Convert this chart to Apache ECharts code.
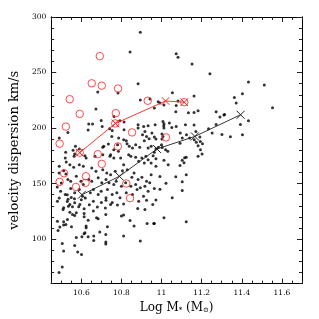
<!DOCTYPE html>
<html><head><meta charset="utf-8">
<script src="https://cdn.jsdelivr.net/npm/echarts@6/dist/echarts.min.js"></script>
<style>html,body{margin:0;padding:0;background:#fff}#c{width:319px;height:319px}</style>
</head><body><div id="c"></div>
<script>
// Tick labels
const xTickLabels = [10.6, 10.8, 11.0, 11.2, 11.4, 11.6];
const yTickLabels = [100, 150, 200, 250, 300];

// Black points: [log M*, sigma]
const blackDots = [
[10.894,286.3],[10.843,268.6],[10.682,232.4],[10.783,231.5],[10.883,240],[10.894,225.2],[10.942,226.1],[10.673,217.1],
[11.073,267],[11.082,263.8],[11.152,257.8],[11.241,248.8],[11.433,241.4],[11.403,230.9],[11.363,227.6],[11.372,222.5],[11.054,231.8],[11.162,228.8],[10.983,223.7],[10.992,222.5],[11.012,220.7],[10.964,218],[11.082,224.3],[11.073,220.4],[11.071,214.7],[11.134,213.8],[11.162,214.1],[11.182,215.6],[11.272,214.7],[11.314,212.3],[11.512,238.7],[11.553,218.3],[11.291,210],[11.311,211.8],[11.393,203.3],[11.433,206.6],
[10.637,203.6],[10.656,203.6],[10.699,206.9],[10.813,205.4],[10.763,210.5],[10.793,206.5],[10.704,201.5],[10.883,203],[10.883,200],[10.911,201.5],[10.933,202.2],[11.011,202.2],[11.039,204.6],[11.051,200.6],[11.073,201.5],[11.012,204],[11.012,200],[11.162,202.8],[11.234,199.5],[11.272,203.3],[10.968,203],[11.119,203],[11.007,206],
[10.634,198.2],[10.741,199.4],[10.754,197.9],[10.813,198.5],[10.905,194],[10.917,197],[10.914,188.6],[10.925,192.5],[10.938,190.5],[10.952,195.5],[10.735,185.7],[10.811,189.6],[10.824,188.7],[10.839,183.6],[10.855,182.1],[10.871,185.1],[10.891,182.7],[10.933,182.1],[10.948,183.6],[10.707,182.7],[10.762,180.6],[10.590,181.2],[10.559,180],[10.490,191.1],[10.533,196.1],[10.571,183.6],[10.752,192.5],[10.786,191.1],[10.828,186],[10.964,192],[11.007,192.5],[11.171,197],[11.093,195.6],[11.103,191.1],[11.124,194.1],[11.191,192],[11.193,188],[11.173,187.2],[11.092,186.3],[11.204,186],[11.182,184.2],[11.252,195.6],[11.301,194.3],[11.343,192.3],[11.403,194.1],[11.002,194.7],[11.002,190.2],[10.972,190.2],[11.140,191.1],[10.983,182.5],[10.972,181.2],[11.003,182.5],[10.712,183.6],[11.000,185.1],[11.020,180.6],[11.163,189.5],[11.194,180.6],[10.781,185],
[10.567,176.7],[10.618,175.2],[10.624,173.1],[10.520,173.1],[10.525,169.5],[10.668,174.6],[10.707,176.1],[10.746,176.1],[10.762,173.1],[10.785,179.1],[10.796,173.1],[10.811,167.1],[10.847,174.6],[10.871,173.7],[10.886,170.1],[10.902,173.1],[10.914,168.6],[10.933,171.6],[10.948,168.6],[10.543,167.1],[10.562,164.7],[10.590,167.1],[10.610,165.6],[10.652,164.1],[10.673,161.1],[10.707,162.6],[10.727,159.6],[10.769,161.1],[10.805,161.7],[10.829,162.6],[10.863,159.6],[10.948,158.1],[10.489,159.6],[10.512,161.7],[10.523,158.7],[10.522,178.2],[10.564,174.6],[10.743,174.6],[10.836,176.1],[10.958,175.2],[10.964,178.2],[11.031,179.1],[10.972,172.3],[11.115,173.2],[11.123,173.7],[11.103,171],[11.112,168.7],[11.182,174.6],[11.202,176.7],[11.012,171],[11.033,166.9],[11.092,166.3],[10.972,165.6],[10.922,174.6],[10.490,165.6],
[10.746,158.1],[10.852,155.7],[10.883,153.7],[10.902,155.7],[10.925,152.2],[10.533,153.7],[10.547,152.2],[10.575,156.6],[10.598,152.2],[10.610,149.2],[10.637,153.7],[10.652,152.2],[10.684,155.2],[10.702,150.7],[10.723,153.7],[10.738,150.7],[10.762,149.2],[10.774,152.2],[10.800,147.7],[10.821,150.7],[10.847,147.7],[10.871,149.2],[10.894,146.2],[10.917,147.7],[10.941,150.7],[10.497,143.2],[10.520,140.2],[10.547,145.6],[10.567,141.7],[10.590,144.7],[10.645,141.7],[10.660,144.7],[10.684,140.2],[10.699,143.2],[10.730,144.7],[10.754,140.2],[10.777,141.7],[10.824,141.7],[10.855,140.2],[10.878,144.7],[10.933,143.2],[10.992,156.4],[11.071,156.1],[11.123,157.9],[11.022,150.4],[11.103,151.6],[10.964,145.6],[10.992,145],[11.103,143.8],[10.500,150.5],[10.480,147],
[10.606,138.7],[10.723,137.2],[10.793,137.2],[10.910,138.7],[11.053,137.3],[10.972,135.3],[10.964,114.2],[11.012,119.3],[11.123,115.7],
[10.489,69.9],[10.505,75],[10.512,89.3],[10.505,96.2],[10.484,107.9],[10.481,116.2],[10.493,110.9],[10.512,112.7],[10.523,113.3],[10.512,115.7],[10.531,117.8],[10.551,111.2],[10.575,101.6],[10.567,94.4],[10.582,88.4],[10.601,86.3],[10.603,102.2],[10.614,104.9],[10.618,105.8],[10.624,110.3],[10.634,102.2],[10.624,111.8],[10.662,102.8],[10.662,98.9],[10.692,106.4],[10.722,104.3],[10.722,97.4],[10.722,95.6],[10.730,111.2],[10.676,119.3],[10.684,118.4],[10.722,122.3],[10.811,102.8],[10.800,120.8],[10.811,121.7],[10.843,116.9],[10.863,111.8],[10.894,98.3],[10.928,114.2],[10.961,114.2],[10.881,127.7],[10.614,123.2],[10.614,120.2],[10.634,117.1],[10.660,125.3],[10.614,127.4],[10.754,133.1],[10.780,130.7],[10.811,131.6],[10.512,128.3],[10.536,129.7],[10.543,131.2],[10.556,129.2],[10.567,132.8],[10.593,131.2],[10.587,129.2],[10.556,122.3],[10.567,121.4],[10.543,124.3],[10.575,123.8],[10.509,126.7],[10.481,134.2],[10.660,134.2],[10.723,135.1],[10.746,131.2],[10.886,134.2],[10.925,135.1],[10.956,131.2],[10.917,126.7],
[10.534,136],[10.550,137.5],[10.566,136.4],[10.530,133.8],[10.600,135.5],[10.620,137],[10.640,131],[10.680,129],[10.700,133],[10.720,128],[10.530,140],[10.490,137]
];

// Red open circles
const redCircles = [
[10.492,186.0],[10.523,201.3],[10.542,226.0],[10.592,212.8],[10.652,240.3],[10.702,238.2],[10.692,264.8],[10.783,235.6],[10.772,213.5],[10.769,204.2],[10.782,183.5],[10.853,196.1],[10.931,224.6],[11.022,191.6],[10.682,176.5],[10.492,151.6],[10.514,159.3],[10.573,147.0],[10.623,156.6],[10.621,150.7],[10.702,167.8],[10.824,150.1],[10.843,136.9],[11.113,223.3],[10.592,177.9]
];

// Binned mean lines
const redLineX = [10.592, 10.770, 11.020, 11.113];
const redLineY = [177.9, 204.2, 224.4, 223.3];
const blackLineX = [10.603, 10.790, 10.977, 11.166, 11.394];
const blackLineY = [140.0, 156.6, 181.2, 192.5, 212.0];

const FONT = 'DejaVu Serif';
const xMinor = [], yMinor = [];
for (let i = 0; i <= 25; i++) xMinor.push(+(10.45 + i * 0.05).toFixed(2));
for (let v = 60; v <= 300; v += 10) yMinor.push(v);

const XMIN = 10.45, XMAX = 11.70, YMIN = 60, YMAX = 300;
function xAx(pos, major, labels, extra) {
  return Object.assign({
    type: 'value', position: pos, min: XMIN, max: XMAX, gridIndex: 0,
    axisLine: {show: true, onZero: false, lineStyle: {color: '#000', width: 1}},
    axisTick: {show: true, inside: true, length: major ? 5 : 3, customValues: major ? xTickLabels : xMinor,
      lineStyle: {color: '#222', width: 1}},
    axisLabel: labels ? {show: true, customValues: xTickLabels, fontFamily: FONT, fontSize: 7.5, color: '#000', margin: 5,
      formatter: v => String(+v.toFixed(1))} : {show: false},
    splitLine: {show: false}
  }, extra || {});
}
function yAx(pos, major, labels, extra) {
  return Object.assign({
    type: 'value', position: pos, min: YMIN, max: YMAX, gridIndex: 0,
    axisLine: {show: true, onZero: false, lineStyle: {color: '#000', width: 1}},
    axisTick: {show: true, inside: true, length: major ? 5 : 3, customValues: major ? yTickLabels : yMinor,
      lineStyle: {color: '#222', width: 1}},
    axisLabel: labels ? {show: true, customValues: yTickLabels, fontFamily: FONT, fontSize: 7.5, color: '#000', margin: 5} : {show: false},
    splitLine: {show: false}
  }, extra || {});
}

const chart = echarts.init(document.getElementById('c'), null, {renderer: 'canvas'});
const xSym = 'path://M0,0L10,10M10,0L0,10';
chart.setOption({
  animation: false,
  backgroundColor: '#fff',
  grid: {left: 34, top: 17, right: 17, bottom: 34, containLabel: false},
  xAxis: [
    xAx('bottom', true, true, {
      name: '{a|Log M}{s|*}{a| (M}{s|⊙}{a|)}', nameLocation: 'middle', nameGap: 16,
      nameTextStyle: {rich: {a: {fontFamily: FONT, fontSize: 12, color: '#000'}, s: {fontFamily: FONT, fontSize: 7, color: '#000', verticalAlign: 'bottom', padding: [6, 0, 0, 0]}}}
    }),
    xAx('bottom', false, false),
    xAx('top', true, false),
    xAx('top', false, false)
  ],
  yAxis: [
    yAx('left', true, true, {
      name: 'velocity dispersion km/s', nameLocation: 'middle', nameGap: 19, nameRotate: 90,
      nameTextStyle: {fontFamily: FONT, fontSize: 13, color: '#000'}
    }),
    yAx('left', false, false),
    yAx('right', true, false),
    yAx('right', false, false)
  ],
  series: [
    {type: 'scatter', data: blackDots, symbol: 'circle', symbolSize: 3,
      itemStyle: {color: '#000'}, z: 2, silent: true},
    {type: 'scatter', data: redCircles, symbol: 'circle', symbolSize: 7.5,
      itemStyle: {color: 'transparent', borderColor: '#ff2020', borderWidth: 1}, z: 3, silent: true},
    {type: 'line', data: blackLineX.map((x, i) => [x, blackLineY[i]]), symbol: xSym, symbolSize: 8, showAllSymbol: true,
      lineStyle: {color: '#222', width: 0.9}, itemStyle: {color: 'transparent', borderColor: '#222', borderWidth: 1}, z: 4, silent: true},
    {type: 'line', data: redLineX.map((x, i) => [x, redLineY[i]]), symbol: xSym, symbolSize: 7.5, showAllSymbol: true,
      lineStyle: {color: '#ff2020', width: 0.9}, itemStyle: {color: 'transparent', borderColor: '#ff2020', borderWidth: 1}, z: 5, silent: true}
  ]
});
</script></body></html>
